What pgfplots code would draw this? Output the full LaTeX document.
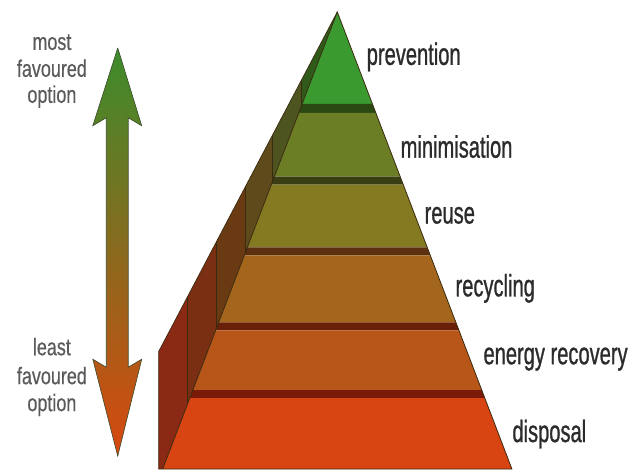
\documentclass[border=0pt]{standalone}
\usepackage{pgfplots}
\pgfplotsset{compat=1.18}
\usepackage{fontspec}
\setmainfont{Liberation Sans}
\newfontfamily\narrowA[FakeStretch=0.65,FakeBold=0.8]{Liberation Sans}
\newfontfamily\narrowB[FakeStretch=0.75,FakeBold=0.4]{Liberation Sans}
\definecolor{cPrev}{HTML}{3A9A30}
\definecolor{cMin}{HTML}{6B7D25}
\definecolor{cReuse}{HTML}{847A22}
\definecolor{cRecy}{HTML}{A3661C}
\definecolor{cEner}{HTML}{B8561A}
\definecolor{cDisp}{HTML}{D84412}
\definecolor{sA}{HTML}{2A4A12}
\definecolor{sB}{HTML}{3B3D12}
\definecolor{sC}{HTML}{5A3010}
\definecolor{sD}{HTML}{6A2008}
\definecolor{sE}{HTML}{7A1A08}
\definecolor{dA}{HTML}{2F5A1A}
\definecolor{dB}{HTML}{4D5420}
\definecolor{dC}{HTML}{5E4A1A}
\definecolor{dD}{HTML}{6A3A12}
\definecolor{dE}{HTML}{7A2E12}
\definecolor{dF}{HTML}{8A2A14}
\definecolor{edge}{HTML}{3A2A10}
\definecolor{txtA}{HTML}{2B2B2B}
\definecolor{txtB}{HTML}{5A5A5A}
\definecolor{arrTop}{HTML}{3C8C2C}
\definecolor{arrBot}{HTML}{D8480F}
\definecolor{arrEdge}{HTML}{3A4A2A}
\begin{document}
\begin{tikzpicture}
\begin{axis}[scale only axis, width=631pt, height=472pt,
  xmin=0, xmax=631, ymin=0, ymax=472, y dir=reverse,
  hide axis, clip=false, no markers]
% background
\addplot[fill=white, draw=none] coordinates {(0,0) (631,0) (631,472) (0,472) (0,0)};
% side strips
\addplot[fill=dA, draw=none] coordinates {(338,12) (302,80.4) (302,106.2) (338,12)};
\addplot[fill=dB, draw=none] coordinates {(302,80.4) (273,135.6) (273,182.2) (302,106.2) (302,80.4)};
\addplot[fill=dC, draw=none] coordinates {(273,135.6) (246,186.9) (246,252.8) (273,182.2) (273,135.6)};
\addplot[fill=dD, draw=none] coordinates {(246,186.9) (217,242) (217,328.7) (246,252.8) (246,186.9)};
\addplot[fill=dE, draw=none] coordinates {(217,242) (188,297.2) (188,404.7) (217,328.7) (217,242)};
\addplot[fill=dF, draw=none] coordinates {(188,297.2) (159,352.3) (159,470) (163,470) (188,404.7) (188,297.2)};
% side edges
\addplot[draw=edge, line width=0.7pt] coordinates {(338,12) (159,352.3) (159,470) (163,470)};
\addplot[draw=edge, line width=0.7pt] coordinates {(302,80.4) (302,106.2)};
\addplot[draw=edge, line width=0.7pt] coordinates {(273,135.6) (273,182.2)};
\addplot[draw=edge, line width=0.7pt] coordinates {(246,186.9) (246,252.8)};
\addplot[draw=edge, line width=0.7pt] coordinates {(217,242) (217,328.7)};
\addplot[draw=edge, line width=0.7pt] coordinates {(188,297.2) (188,404.7)};
% front bands
\addplot[fill=cPrev, draw=none] coordinates {(338,12) (373.1,104) (302.9,104) (338,12)};
\addplot[fill=sA, draw=none] coordinates {(302.9,104) (373.1,104) (376.6,113) (299.4,113)};
\addplot[fill=cMin, draw=none] coordinates {(299.4,113) (376.6,113) (401.0,177) (275.0,177)};
\addplot[fill=sB, draw=none] coordinates {(275.0,177) (401.0,177) (404.1,185) (271.9,185)};
\addplot[fill=cReuse, draw=none] coordinates {(271.9,185) (404.1,185) (428.2,248) (247.8,248)};
\addplot[fill=sC, draw=none] coordinates {(247.8,248) (428.2,248) (431.2,256) (244.8,256)};
\addplot[fill=cRecy, draw=none] coordinates {(244.8,256) (431.2,256) (456.8,323) (219.2,323)};
\addplot[fill=sD, draw=none] coordinates {(219.2,323) (456.8,323) (459.9,331) (216.1,331)};
\addplot[fill=cEner, draw=none] coordinates {(216.1,331) (459.9,331) (482.8,391) (193.2,391)};
\addplot[fill=sE, draw=none] coordinates {(193.2,391) (482.8,391) (485.8,399) (190.2,399)};
\addplot[fill=cDisp, draw=none] coordinates {(190.2,399) (485.8,399) (513,470) (163,470)};
% front outline
\addplot[draw=edge, line width=0.8pt] coordinates {(163,470) (338,12) (513,470) (163,470)};
% double arrow
\addplot[draw=arrEdge, line width=0.6pt, top color=arrTop, bottom color=arrBot]
  coordinates {(118,48) (142,126) (128.5,118) (128.5,368) (142,360) (118,457)
               (93,360) (106.5,368) (106.5,118) (93,126) (118,48)};
% labels
\node[anchor=base west, text=txtA, font=\narrowA\fontsize{31}{31}\selectfont] at (axis cs:364,65) {prevention};
\node[anchor=base west, text=txtA, font=\narrowA\fontsize{31}{31}\selectfont] at (axis cs:398,158) {minimisation};
\node[anchor=base west, text=txtA, font=\narrowA\fontsize{31}{31}\selectfont] at (axis cs:422,224) {reuse};
\node[anchor=base west, text=txtA, font=\narrowA\fontsize{31}{31}\selectfont] at (axis cs:453,297) {recycling};
\node[anchor=base west, text=txtA, font=\narrowA\fontsize{31}{31}\selectfont] at (axis cs:481,365) {energy recovery};
\node[anchor=base west, text=txtA, font=\narrowA\fontsize{31}{31}\selectfont] at (axis cs:510,443) {disposal};
\node[anchor=base, text=txtB, font=\narrowB\fontsize{24}{24}\selectfont] at (axis cs:52,50) {most};
\node[anchor=base, text=txtB, font=\narrowB\fontsize{24}{24}\selectfont] at (axis cs:52,77) {favoured};
\node[anchor=base, text=txtB, font=\narrowB\fontsize{24}{24}\selectfont] at (axis cs:52,103) {option};
\node[anchor=base, text=txtB, font=\narrowB\fontsize{24}{24}\selectfont] at (axis cs:52,356) {least};
\node[anchor=base, text=txtB, font=\narrowB\fontsize{24}{24}\selectfont] at (axis cs:52,385) {favoured};
\node[anchor=base, text=txtB, font=\narrowB\fontsize{24}{24}\selectfont] at (axis cs:52,412) {option};
\end{axis}
\end{tikzpicture}
\end{document}
